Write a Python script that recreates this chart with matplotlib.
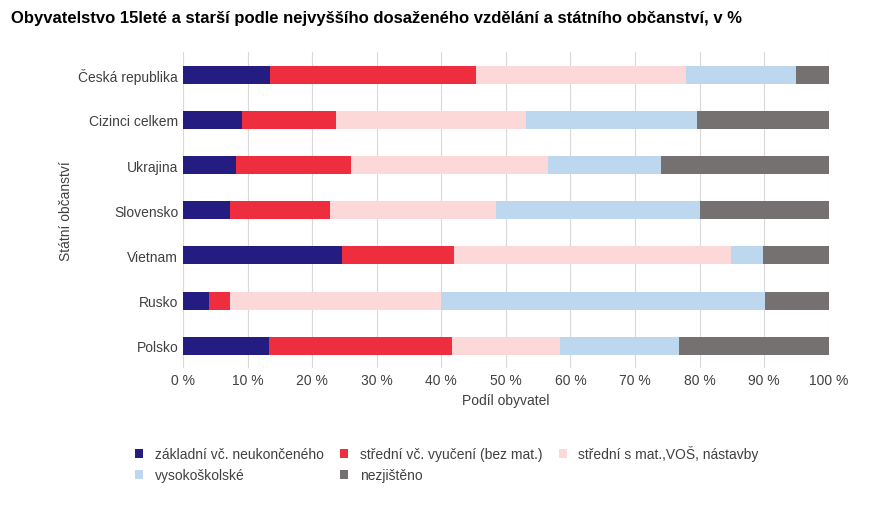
import matplotlib.pyplot as plt
import numpy as np

# ============ data ============
countries = ['Česká republika', 'Cizinci celkem', 'Ukrajina', 'Slovensko', 'Vietnam', 'Rusko', 'Polsko']
zakladni = [13.5, 9.1, 8.2, 7.3, 24.6, 4.0, 13.3]
stredni_vyuc = [31.9, 14.6, 17.8, 15.5, 17.4, 3.3, 28.3]
stredni_mat = [32.5, 29.4, 30.5, 25.7, 42.8, 32.6, 16.8]
vysokoskolske = [17.0, 26.5, 17.6, 31.5, 5.0, 50.3, 18.4]
nezjisteno = [5.1, 20.4, 25.9, 20.0, 10.2, 9.8, 23.2]

series = [
    ('základní vč. neukončeného', zakladni, '#241C80'),
    ('střední vč. vyučení (bez mat.)', stredni_vyuc, '#EE2D3E'),
    ('střední s mat.,VOŠ, nástavby', stredni_mat, '#FDD8D9'),
    ('vysokoškolské', vysokoskolske, '#BDD7EE'),
    ('nezjištěno', nezjisteno, '#767171'),
]

plt.rcParams['font.family'] = ['Liberation Sans', 'DejaVu Sans']

fig = plt.figure(figsize=(8.76, 5.06), dpi=100)
ax = fig.add_axes([0.209, 0.27, 0.737, 0.625])

y = np.arange(len(countries))
left = np.zeros(len(countries))
handles = []
for name, vals, color in series:
    h = ax.barh(y, vals, left=left, height=0.4, color=color, label=name, zorder=3)
    handles.append(h)
    left += np.array(vals)

ax.set_ylim(len(countries) - 0.5, -0.5)
ax.set_yticks(y)
ax.set_yticklabels(countries, fontsize=10, color='#404040')
ax.set_xlim(0, 100)
ax.set_xticks(range(0, 101, 10))
ax.set_xticklabels([f'{v} %' for v in range(0, 101, 10)], fontsize=10, color='#404040')
ax.tick_params(length=0)
ax.grid(axis='x', color='#D9D9D9', linewidth=0.8, zorder=0)
for s in ax.spines.values():
    s.set_visible(False)
ax.set_xlabel('Podíl obyvatel', fontsize=10, color='#404040')
ax.set_ylabel('Státní občanství', fontsize=10, color='#404040')

fig.text(0.012, 0.955, 'Obyvatelstvo 15leté a starší podle nejvyššího dosaženého vzdělání a státního občanství, v %',
         fontsize=12, fontweight='bold', ha='left')

# legend filled row by row like the original
order = [0, 3, 1, 4, 2]
fig.legend([handles[i] for i in order], [series[i][0] for i in order],
           loc='lower left', bbox_to_anchor=(0.14, 0.02), ncol=3, frameon=False,
           fontsize=10, handlelength=0.6, handleheight=0.6, columnspacing=1.2,
           labelcolor='#404040')

plt.savefig('out.png', dpi=100, facecolor='white')
plt.close()
